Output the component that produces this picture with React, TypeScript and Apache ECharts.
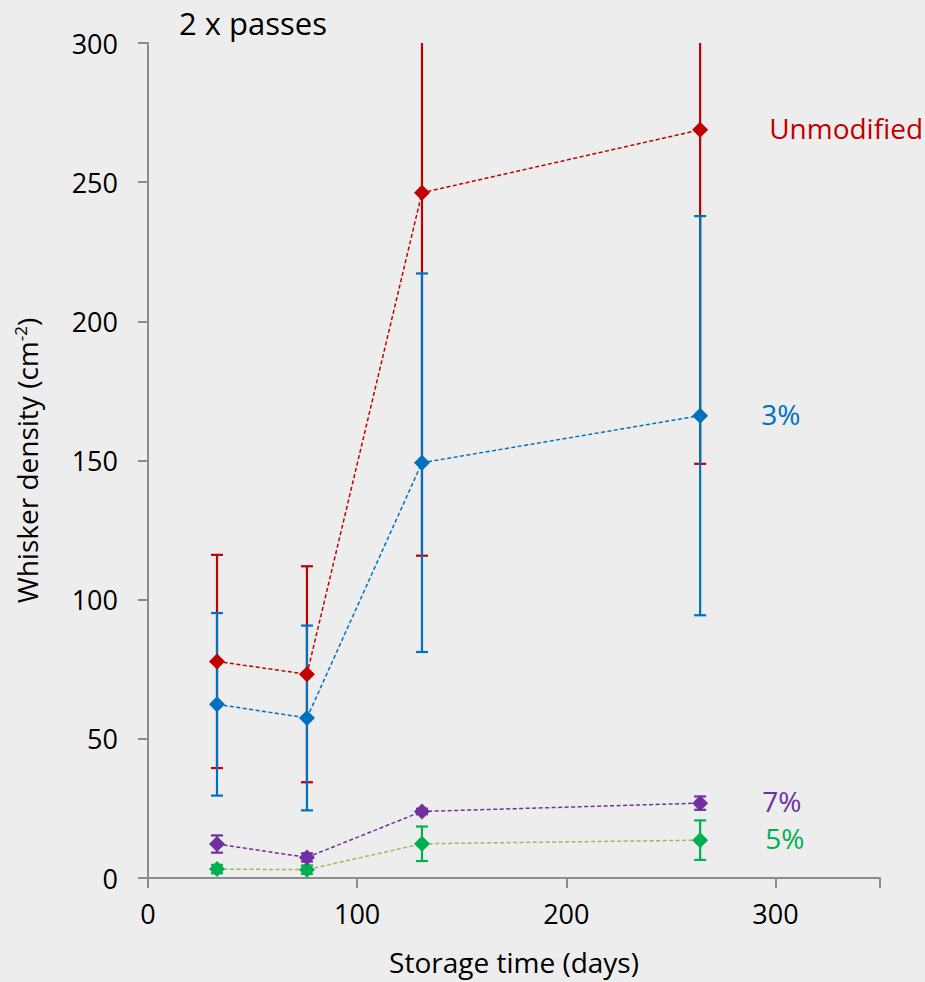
import React, { useEffect, useRef } from "react";
import * as echarts from "echarts";

// Storage time of each measurement (days)
const storageDays = [33, 76, 131, 264];

// Mean whisker density (cm^-2) and its error (±) for each coating
const unmodifiedMean = [77.8, 73.2, 246.2, 268.8];
const unmodifiedErr = [38.3, 38.8, 130.4, 120.0];
const pct3Mean = [62.4, 57.5, 149.2, 166.1];
const pct3Err = [32.8, 33.2, 68.0, 71.7];
const pct7Mean = [12.2, 7.4, 23.9, 26.9];
const pct7Err = [3.1, 1.5, 1.0, 2.4];
const pct5Mean = [3.2, 3.0, 12.3, 13.6];
const pct5Err = [1.5, 1.5, 6.2, 7.1];

const xTicks = [0, 100, 200, 300];
const yMax = 300;
const FONT = "'Open Sans', 'DejaVu Sans', sans-serif";

type Group = {
  name: string;
  mean: number[];
  err: number[];
  marker: string;
  line: string;
  label: string;
  labelGap: number;
};

const groups: Group[] = [
  { name: "5%", mean: pct5Mean, err: pct5Err, marker: "#00b050", line: "#9bbb59", label: "5%", labelGap: 57 },
  { name: "7%", mean: pct7Mean, err: pct7Err, marker: "#7030a0", line: "#7030a0", label: "7%", labelGap: 54 },
  { name: "Unmodified", mean: unmodifiedMean, err: unmodifiedErr, marker: "#c00000", line: "#c00000", label: "Unmodified", labelGap: 61 },
  { name: "3%", mean: pct3Mean, err: pct3Err, marker: "#0070c0", line: "#0070c0", label: "3%", labelGap: 53 },
];

function errorBarSeries(g: Group, z: number) {
  const data = storageDays.map((d, i) => [d, g.mean[i] - g.err[i], g.mean[i] + g.err[i]]);
  return {
    type: "custom",
    name: g.name + " error",
    z,
    silent: true,
    data,
    renderItem: (_params: any, api: any) => {
      const x = api.value(0);
      const lo = api.value(1);
      const hi = api.value(2);
      const pLo = api.coord([x, Math.max(lo, 0)]);
      const pHi = api.coord([x, Math.min(hi, yMax)]);
      const cap = 6;
      const style = { stroke: g.marker, lineWidth: 2.2, fill: "none" };
      const children: any[] = [
        { type: "line", shape: { x1: pLo[0], y1: pLo[1], x2: pHi[0], y2: pHi[1] }, style },
      ];
      if (lo >= 0) {
        children.push({ type: "line", shape: { x1: pLo[0] - cap, y1: pLo[1], x2: pLo[0] + cap, y2: pLo[1] }, style });
      }
      if (hi <= yMax) {
        children.push({ type: "line", shape: { x1: pHi[0] - cap, y1: pHi[1], x2: pHi[0] + cap, y2: pHi[1] }, style });
      }
      return { type: "group", children };
    },
  };
}

function lineSeries(g: Group, z: number) {
  const last = storageDays.length - 1;
  return {
    type: "line",
    name: g.name,
    z,
    symbol: "diamond",
    symbolSize: 16,
    itemStyle: { color: g.marker },
    lineStyle: { color: g.line, width: 1.5, type: [4, 2.5] },
    data: storageDays.map((d, i) =>
      i === last
        ? {
            value: [d, g.mean[i]],
            label: {
              show: true,
              position: "right",
              distance: g.labelGap,
              formatter: g.label,
              color: g.marker,
              fontFamily: FONT,
              fontSize: 28,
              offset: [0, -2],
            },
          }
        : [d, g.mean[i]]
    ),
  };
}

export default function App() {
  const ref = useRef<HTMLDivElement>(null);

  useEffect(() => {
    if (!ref.current) return;
    const chart = echarts.init(ref.current, null, { renderer: "svg" });
    const axisColor = "#8c8c8c";
    chart.setOption({
      animation: false,
      backgroundColor: "#ededed",
      title: {
        text: "2 x passes",
        left: 179,
        top: 5,
        padding: 0,
        textStyle: { fontFamily: FONT, fontSize: 31, lineHeight: 36, fontWeight: "normal", color: "#000" },
      },
      grid: { left: 148, top: 43, right: 45, bottom: 104, containLabel: false },
      xAxis: {
        type: "value",
        min: 0,
        max: 350,
        interval: 100,
        name: "Storage time (days)",
        nameLocation: "middle",
        nameGap: 70,
        nameTextStyle: { fontFamily: FONT, fontSize: 28, color: "#000" },
        axisLine: { show: true, lineStyle: { color: axisColor, width: 2 } },
        axisTick: { show: true, inside: false, length: 10, lineStyle: { color: axisColor, width: 2 } },
        axisLabel: {
          fontFamily: FONT,
          fontSize: 27,
          color: "#000",
          margin: 22,
          formatter: (v: number) => (xTicks.includes(v) ? String(v) : ""),
        },
        splitLine: { show: false },
      },
      yAxis: {
        type: "value",
        min: 0,
        max: yMax,
        interval: 50,
        name: "Whisker density (cm{sup|-2})",
        nameLocation: "middle",
        nameGap: 106,
        nameRotate: 90,
        nameTextStyle: {
          fontFamily: FONT,
          fontSize: 28,
          color: "#000",
          rich: {
            sup: { fontFamily: FONT, fontSize: 17, color: "#000", verticalAlign: "top", padding: [0, 0, 13, 0] },
          },
        },
        axisLine: { show: true, lineStyle: { color: axisColor, width: 2 } },
        axisTick: { show: true, inside: false, length: 10, lineStyle: { color: axisColor, width: 2 } },
        axisLabel: { fontFamily: FONT, fontSize: 27, color: "#000", margin: 30 },
        splitLine: { show: false },
      },
      series: [
        ...groups.map((g, i) => errorBarSeries(g, 2 + i * 0.01)),
        ...groups.map((g, i) => lineSeries(g, 3 + i * 0.01)),
      ],
    });
    return () => chart.dispose();
  }, []);

  return (
    <div
      ref={ref}
      style={{ position: "fixed", left: 0, top: 0, width: 925, height: 982 }}
    />
  );
}
